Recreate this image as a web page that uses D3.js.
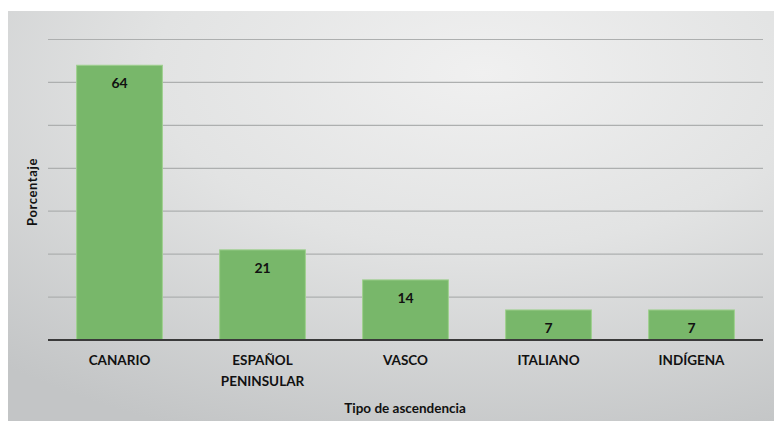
<!DOCTYPE html>
<html>
<head>
  <meta charset="utf-8">
  <title>Tipo de ascendencia</title>
  <script src="https://d3js.org/d3.v7.min.js"></script>
  <style>
    body { margin: 0; background: #fff; }
    text { font-family: Lato, "Open Sans", sans-serif; font-weight: bold; fill: #111; }
  </style>
</head>
<body>
  <div id="chart"></div>
  <script>
    // datos
    var categorias = ["CANARIO", "ESPAÑOL PENINSULAR", "VASCO", "ITALIANO", "INDÍGENA"];
    var porcentajes = [64, 21, 14, 7, 7];
    var ticks = [0, 10, 20, 30, 40, 50, 60, 70];

    var width = 774, height = 421;
    var margin = { left: 48, right: 11, top: 39.5, bottom: 81 };

    var svg = d3.select("#chart").append("svg")
      .attr("width", width)
      .attr("height", height);

    var defs = svg.append("defs");
    var grad = defs.append("radialGradient")
      .attr("id", "fondo")
      .attr("cx", "62%").attr("cy", "15%").attr("r", "95%")
      .attr("fx", "62%").attr("fy", "15%");
    grad.append("stop").attr("offset", "0%").attr("stop-color", "#f0f0f0");
    grad.append("stop").attr("offset", "45%").attr("stop-color", "#e2e3e3");
    grad.append("stop").attr("offset", "100%").attr("stop-color", "#c3c5c6");

    svg.append("rect")
      .attr("x", 8).attr("y", 11)
      .attr("width", width - 8).attr("height", height - 11)
      .attr("fill", "url(#fondo)");

    var x = d3.scaleBand()
      .domain(categorias)
      .range([margin.left, width - margin.right])
      .paddingInner(0.4)
      .paddingOuter(0.2);

    var y = d3.scaleLinear()
      .domain([0, 70])
      .range([height - margin.bottom, margin.top]);

    // lineas de cuadricula
    svg.append("g").selectAll("line")
      .data(ticks.slice(1))
      .enter().append("line")
      .attr("x1", margin.left).attr("x2", width - margin.right)
      .attr("y1", d => y(d)).attr("y2", d => y(d))
      .attr("stroke", "#adafaf")
      .attr("stroke-width", 1.2);

    // barras
    svg.append("g").selectAll("rect")
      .data(porcentajes)
      .enter().append("rect")
      .attr("x", (d, i) => x(categorias[i]))
      .attr("y", d => y(d))
      .attr("width", x.bandwidth())
      .attr("height", d => y(0) - y(d))
      .attr("fill", "#78b76a")
      .attr("stroke", "#9fd08f")
      .attr("stroke-width", 1);

    // etiquetas de valor
    svg.append("g").selectAll("text")
      .data(porcentajes)
      .enter().append("text")
      .attr("x", (d, i) => x(categorias[i]) + x.bandwidth() / 2)
      .attr("y", d => y(d) + 23)
      .attr("text-anchor", "middle")
      .style("font-size", "14px")
      .text(d => d);

    // eje x
    svg.append("line")
      .attr("x1", margin.left).attr("x2", width - margin.right)
      .attr("y1", y(0)).attr("y2", y(0))
      .attr("stroke", "#3a3a3a")
      .attr("stroke-width", 2.2);

    var etiquetas = svg.append("g").selectAll("text")
      .data(categorias)
      .enter().append("text")
      .attr("x", d => x(d) + x.bandwidth() / 2)
      .attr("y", 365)
      .attr("text-anchor", "middle")
      .style("font-size", "13.5px");

    etiquetas.each(function (d) {
      var t = d3.select(this);
      var partes = d === "ESPAÑOL PENINSULAR" ? ["ESPAÑOL", "PENINSULAR"] : [d];
      partes.forEach(function (p, i) {
        t.append("tspan")
          .attr("x", x(d) + x.bandwidth() / 2)
          .attr("dy", i === 0 ? 0 : 21)
          .text(p);
      });
    });

    // titulos de ejes
    svg.append("text")
      .attr("x", 405).attr("y", 413)
      .attr("text-anchor", "middle")
      .style("font-size", "13.5px")
      .text("Tipo de ascendencia");

    svg.append("text")
      .attr("transform", "translate(37,192) rotate(-90)")
      .attr("text-anchor", "middle")
      .style("font-size", "13px")
      .style("letter-spacing", "0.6px")
      .text("Porcentaje");
  </script>
</body>
</html>
